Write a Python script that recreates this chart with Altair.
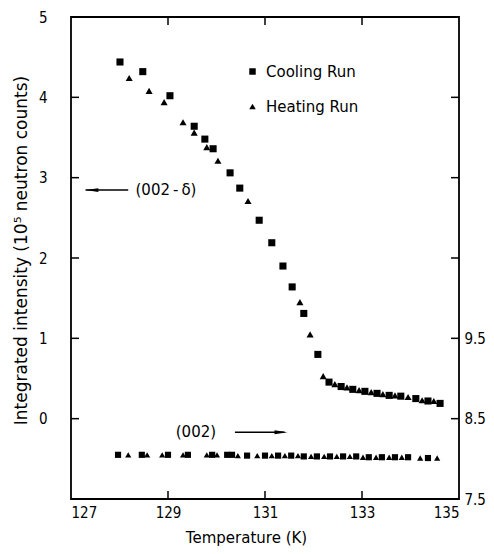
import altair as alt
import pandas as pd

# ---- data ----
x_ticks = [127, 129, 131, 133, 135]
left_ticks = [0, 1, 2, 3, 4, 5]
right_ticks = [7.5, 8.5, 9.5]
inner_y_ticks = [0, 1, 2, 3, 4]
inner_x_ticks = [129, 131, 133]

# (002-delta) peak, left axis
cool_T = [128.01, 128.48, 129.04, 129.54, 129.76, 129.93, 130.28, 130.48, 130.88,
          131.14, 131.37, 131.56, 131.80, 132.09, 132.32, 132.57, 132.81, 133.06,
          133.31, 133.56, 133.80, 134.11, 134.36, 134.61]
cool_I = [4.44, 4.32, 4.02, 3.64, 3.48, 3.36, 3.06, 2.87, 2.47,
          2.19, 1.90, 1.64, 1.31, 0.80, 0.455, 0.40, 0.365, 0.34,
          0.315, 0.29, 0.28, 0.25, 0.22, 0.19]
heat_T = [128.20, 128.61, 128.92, 129.31, 129.54, 129.80, 130.03, 130.65, 131.72,
          131.93, 132.20, 132.44, 132.69, 132.94, 133.19, 133.43, 133.68, 133.95,
          134.24, 134.48]
heat_I = [4.24, 4.08, 3.94, 3.69, 3.56, 3.38, 3.21, 2.71, 1.45,
          1.05, 0.53, 0.43, 0.39, 0.355, 0.33, 0.305, 0.29, 0.27,
          0.23, 0.22]

# (002) peak, right axis
low_cool_T = [127.97, 128.46, 129.00, 129.41, 129.91, 130.22, 130.32, 130.63, 131.00,
              131.27, 131.54, 131.80, 132.07, 132.34, 132.61, 132.88, 133.14, 133.41,
              133.68, 133.95, 134.36]
low_cool_I = [8.05, 8.05, 8.05, 8.05, 8.05, 8.05, 8.05, 8.04, 8.04,
              8.04, 8.04, 8.03, 8.03, 8.03, 8.03, 8.03, 8.02, 8.02,
              8.02, 8.02, 8.01]
low_heat_T = [128.18, 128.57, 128.88, 129.31, 129.80, 130.01, 130.44, 130.84, 131.14,
              131.41, 131.68, 131.95, 132.22, 132.48, 132.75, 133.02, 133.29, 133.56,
              133.82, 134.20, 134.55]
low_heat_I = [8.05, 8.05, 8.05, 8.05, 8.05, 8.05, 8.04, 8.04, 8.04,
              8.04, 8.04, 8.03, 8.03, 8.03, 8.03, 8.02, 8.02, 8.02,
              8.02, 8.01, 8.01]

runs = ["Cooling Run", "Heating Run"]

up_df = pd.concat([
    pd.DataFrame({"T": cool_T, "I": cool_I, "run": runs[0]}),
    pd.DataFrame({"T": heat_T, "I": heat_I, "run": runs[1]}),
])
low_df = pd.concat([
    pd.DataFrame({"T": low_cool_T, "I": low_cool_I, "run": runs[0]}),
    pd.DataFrame({"T": low_heat_T, "I": low_heat_I, "run": runs[1]}),
])

W, H = 388, 482
FONT_C = "DejaVu Sans Condensed"
FONT = "DejaVu Sans"

xs = alt.Scale(domain=[127, 135], nice=False, zero=False)
yL = alt.Scale(domain=[-1, 5], nice=False, zero=False)
yR = alt.Scale(domain=[7.5, 13.5], nice=False, zero=False)
shape_scale = alt.Scale(domain=runs, range=["square", "triangle-up"])

x_enc = alt.X("T:Q", scale=xs,
              axis=alt.Axis(values=x_ticks, title="Temperature (K)", format="d",
                            labelPadding=6, titlePadding=10, titleX=175,
                            titleFont=FONT, titleFontSize=15))

upper = alt.Chart(up_df).mark_point(filled=True, color="black", opacity=1, size=50).encode(
    x=x_enc,
    y=alt.Y("I:Q", scale=yL,
            axis=alt.Axis(orient="left", values=left_ticks, format="d",
                          title="Integrated intensity  (10⁵ neutron counts)",
                          titleFont=FONT, titleFontSize=17, titleY=233,
                          labelPadding=24, titlePadding=8)),
    shape=alt.Shape("run:N", scale=shape_scale,
                    legend=alt.Legend(title=None, orient="none", legendX=174, legendY=47,
                                      labelFontSize=15, labelFont=FONT, symbolSize=42,
                                      rowPadding=19, labelOffset=6, padding=0,
                                      symbolFillColor="black", symbolStrokeWidth=0)),
)

lower = alt.Chart(low_df).mark_point(filled=True, color="black", opacity=1, size=38).encode(
    x=alt.X("T:Q", scale=xs),
    y=alt.Y("I:Q", scale=yR,
            axis=alt.Axis(orient="right", values=right_ticks, format=".1f", title=None,
                          labelPadding=5)),
    shape=alt.Shape("run:N", scale=shape_scale, legend=None),
)

yt_df = pd.DataFrame({"v": inner_y_ticks})
xt_df = pd.DataFrame({"v": inner_x_ticks})
y_noaxis = alt.Y("v:Q", scale=yL, axis=None)

left_ticks_l = alt.Chart(yt_df).mark_rule(color="black", strokeWidth=1.5).encode(
    y=y_noaxis, x=alt.value(0), x2=alt.value(8))
right_ticks_l = alt.Chart(yt_df).mark_rule(color="black", strokeWidth=1.5).encode(
    y=y_noaxis, x=alt.value(W), x2=alt.value(W - 8))
bottom_ticks_l = alt.Chart(xt_df).mark_rule(color="black", strokeWidth=1.5).encode(
    x=alt.X("v:Q", scale=xs), y=alt.value(H), y2=alt.value(H - 8))
top_ticks_l = alt.Chart(xt_df).mark_rule(color="black", strokeWidth=1.5).encode(
    x=alt.X("v:Q", scale=xs), y=alt.value(0), y2=alt.value(8))

# annotations
ann_text = pd.DataFrame({
    "T": [128.33, 129.16],
    "I": [2.845, -0.17],
    "label": ["(002\u2009-\u2009δ)", "(002)"],
})
texts = alt.Chart(ann_text).mark_text(align="left", baseline="middle", font=FONT,
                                       fontSize=15, color="black").encode(
    x=alt.X("T:Q", scale=xs), y=alt.Y("I:Q", scale=yL, axis=None), text="label:N")

arrows = pd.DataFrame({
    "T1": [127.30, 130.38],
    "T2": [128.18, 131.40],
    "I": [2.845, -0.17],
})
arrow_lines = alt.Chart(arrows).mark_rule(color="black", strokeWidth=1.5).encode(
    x=alt.X("T1:Q", scale=xs), x2="T2:Q", y=alt.Y("I:Q", scale=yL, axis=None))

heads = pd.DataFrame({
    "T": [127.43, 131.33],
    "I": [2.845, -0.17],
    "dir": ["left", "right"],
})
arrow_heads = alt.Chart(heads).mark_point(filled=True, color="black", opacity=1, size=170).encode(
    x=alt.X("T:Q", scale=xs), y=alt.Y("I:Q", scale=yL, axis=None),
    shape=alt.Shape("dir:N", scale=alt.Scale(domain=["left", "right"],
                                             range=["M-1,0L1,-0.3L1,0.3Z",
                                                    "M1,0L-1,-0.3L-1,0.3Z"]),
                    legend=None))

chart = alt.layer(
    upper, lower, left_ticks_l, right_ticks_l, bottom_ticks_l, top_ticks_l,
    texts, arrow_lines, arrow_heads,
).resolve_scale(y="independent", shape="independent").properties(
    width=W, height=H,
    background="white",
    autosize=alt.AutoSizeParams(type="none"),
    padding={"left": 63, "top": 9, "right": 27, "bottom": 47},
).configure_view(
    stroke="black", strokeWidth=1.8
).configure_axis(
    grid=False, ticks=False, domain=False,
    labelFont=FONT_C, labelFontSize=15, labelColor="black",
    titleFont=FONT, titleFontSize=15, titleFontWeight="normal", titleColor="black",
)

chart.save("out.html", embed_options={"renderer": "svg", "actions": False})
